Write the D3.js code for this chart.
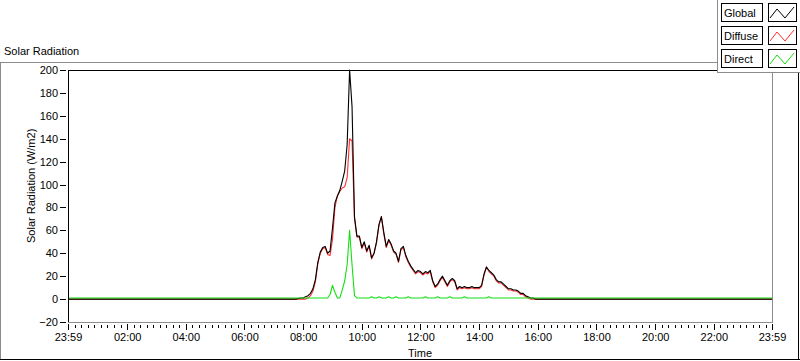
<!DOCTYPE html>
<html>
<head>
<meta charset="utf-8">
<script src="https://cdn.jsdelivr.net/npm/d3@7"></script>
<style>
    body { margin: 0; background: #fff; }
    svg { display: block; font-family: "Liberation Sans", Arial, sans-serif; font-size: 11px; }
    .frameGray { stroke: #8c8c8c; shape-rendering: crispEdges; }
    .frameDark { stroke: #000; shape-rendering: crispEdges; }
</style>
</head>
<body>
<div id="chart"></div>
<script>
// Data (W/m2), shared time grid
var times = ["23:59",
    "07:30", "07:35", "07:40", "07:45", "07:50", "07:55",
    "08:00", "08:05", "08:10", "08:15", "08:20", "08:25", "08:30", "08:35", "08:40", "08:45", "08:50", "08:55",
    "09:00", "09:05", "09:10", "09:15", "09:20", "09:25", "09:30", "09:35", "09:40", "09:45", "09:50", "09:55",
    "10:00", "10:05", "10:10", "10:15", "10:20", "10:25", "10:30", "10:35", "10:40", "10:45", "10:50", "10:55",
    "11:00", "11:05", "11:10", "11:15", "11:20", "11:25", "11:30", "11:35", "11:40", "11:45", "11:50", "11:55",
    "12:00", "12:05", "12:10", "12:15", "12:20", "12:25", "12:30", "12:35", "12:40", "12:45", "12:50", "12:55",
    "13:00", "13:05", "13:10", "13:15", "13:20", "13:25", "13:30", "13:35", "13:40", "13:45", "13:50", "13:55",
    "14:00", "14:05", "14:10", "14:15", "14:20", "14:25", "14:30", "14:35", "14:40", "14:45", "14:50", "14:55",
    "15:00", "15:05", "15:10", "15:15", "15:20", "15:25", "15:30", "15:35", "15:40", "15:45", "15:50", "15:55",
    "16:00", "16:05",
    "23:59"];

var globalVals = [0,
    0, 0, 0, 0, 0.5, 1,
    1, 2, 3, 5, 9, 17, 32, 41, 45, 46, 40, 42,
    62, 84, 90, 95, 103, 112, 135, 200, 168, 72, 55, 55,
    45, 50, 42, 47, 36, 40, 50, 65, 72, 58, 46, 52,
    48, 42, 40, 33, 44, 46, 38, 33, 29, 26, 23, 25,
    24, 22, 24, 23, 25, 16, 11, 13, 17, 20, 16, 12,
    16, 18, 16, 9, 11, 10, 11, 10, 10, 11, 10, 10,
    10, 12, 22, 28, 25, 23, 21, 17, 15, 15, 13, 11,
    9, 9, 8, 8, 7, 5, 5, 3, 2, 1, 1, 0,
    0, 0,
    0];

var diffuseVals = [0,
    0, 0, 0, 0, 0, 0,
    0, 0, 1, 3, 7, 15, 31, 40, 44, 45, 39, 38,
    52, 80, 90, 94, 97, 98, 106, 140, 138, 70, 54, 54,
    44, 49, 41, 46, 35, 40, 49, 64, 72, 57, 45, 51,
    47, 41, 39, 32, 43, 45, 37, 32, 28, 25, 22, 24,
    23, 21, 23, 22, 24, 15, 10, 12, 16, 19, 15, 11,
    15, 17, 15, 8, 10, 9, 10, 9, 9, 10, 9, 9,
    9, 11, 21, 28, 24, 22, 20, 16, 14, 14, 12, 10,
    8, 8, 7, 7, 6, 4, 4, 2, 1, 0, 0, 0,
    0, 0,
    0];

var directVals = [1,
    1, 1, 1, 1, 1, 1,
    1, 1, 1, 1, 1, 1, 1, 1, 1, 1, 1, 4,
    12, 6, 1, 1, 8, 16, 30, 60, 30, 3, 1, 1,
    1, 1, 1, 1, 2, 1, 1, 2, 1, 1, 1, 2,
    1, 1, 2, 1, 1, 1, 1, 2, 1, 1, 1, 1,
    1, 1, 2, 1, 1, 1, 1, 2, 1, 1, 1, 1,
    2, 1, 1, 1, 1, 1, 2, 1, 1, 1, 1, 1,
    1, 1, 1, 1, 2, 1, 1, 1, 1, 1, 1, 1,
    1, 1, 1, 1, 1, 1, 1, 1, 1, 1, 1, 1,
    1, 1,
    1];

var yTicks = [-20, 0, 20, 40, 60, 80, 100, 120, 140, 160, 180, 200];
var xTickLabels = ["23:59", "02:00", "04:00", "06:00", "08:00", "10:00", "12:00",
    "14:00", "16:00", "18:00", "20:00", "22:00", "23:59"];
var seriesNames = ["Global", "Diffuse", "Direct"];
var seriesColors = ["#000000", "#ff3030", "#12e012"];

var svgWidth = 800;
var svgHeight = 361;
var plot = { left: 68, right: 772, top: 70, bottom: 322 };

var parseTime = d3.timeParse("%Y-%m-%d %H:%M");
// first entry is the evening before, everything else falls on the next day
function toDate(t, i) {
    return parseTime((i === 0 ? "2020-01-01 " : "2020-01-02 ") + t);
}

var svg = d3.select("#chart")
    .append("svg")
    .attr("width", svgWidth)
    .attr("height", svgHeight);

var xScale = d3.scaleTime()
    .domain([toDate("23:59", 0), toDate("23:59", 1)])
    .range([plot.left, plot.right]);

var yScale = d3.scaleLinear()
    .domain([-20, 200])
    .range([plot.bottom, plot.top]);

// panel border (sunken look)
svg.append("line").attr("class", "frameGray")
    .attr("x1", 0).attr("x2", 717).attr("y1", 62.5).attr("y2", 62.5);
svg.append("line").attr("class", "frameGray")
    .attr("x1", 0.5).attr("x2", 0.5).attr("y1", 62).attr("y2", 360);
svg.append("line").attr("class", "frameDark")
    .attr("x1", 0).attr("x2", 800).attr("y1", 359.5).attr("y2", 359.5);
svg.append("line").attr("class", "frameDark")
    .attr("x1", 798.5).attr("x2", 798.5).attr("y1", 73).attr("y2", 360);

// title
svg.append("text")
    .attr("x", 4)
    .attr("y", 55)
    .attr("fill", "#000")
    .text("Solar Radiation");

// axes
var majorDates = xTickLabels.map(function (t, i) { return toDate(t, i); });
var minorDates = [];
for (var i = 0; i < majorDates.length - 1; i++) {
    var a = +majorDates[i], b = +majorDates[i + 1];
    for (var k = 1; k < 9; k++) minorDates.push(new Date(a + (b - a) * k / 9));
}

var bottomAxis = d3.axisBottom(xScale)
    .tickValues(majorDates)
    .tickFormat(function (d, i) { return xTickLabels[i]; })
    .tickSize(6)
    .tickPadding(3);
var minorAxis = d3.axisBottom(xScale)
    .tickValues(minorDates)
    .tickFormat("")
    .tickSize(3);
var leftAxis = d3.axisLeft(yScale)
    .tickValues(yTicks)
    .tickSize(6)
    .tickPadding(2);

var xAxisG = svg.append("g")
    .attr("transform", "translate(0, 324)")
    .call(bottomAxis);
var minorG = svg.append("g")
    .attr("transform", "translate(0, 325)")
    .call(minorAxis);
var yAxisG = svg.append("g")
    .attr("transform", "translate(66, 0)")
    .call(leftAxis);

[xAxisG, minorG, yAxisG].forEach(function (g) {
    g.select(".domain").remove();
    g.selectAll("line").attr("stroke", "#000").attr("shape-rendering", "crispEdges");
    g.selectAll("text")
        .attr("fill", "#000")
        .style("font-family", "\"Liberation Sans\", Arial, sans-serif")
        .style("font-size", "11px");
});

// axis titles
svg.append("text")
    .attr("transform", "translate(35, 243) rotate(-90)")
    .attr("fill", "#000")
    .text("Solar Radiation (W/m2)");

svg.append("text")
    .attr("x", (plot.left + plot.right) / 2)
    .attr("y", 357)
    .attr("text-anchor", "middle")
    .attr("fill", "#000")
    .text("Time");

// data lines
svg.append("clipPath").attr("id", "plotClip")
    .append("rect")
    .attr("x", plot.left).attr("y", plot.top - 1)
    .attr("width", plot.right - plot.left).attr("height", plot.bottom - plot.top + 1);

var dates = times.map(toDate);
var series = [globalVals, diffuseVals, directVals].map(function (vals) {
    return vals.map(function (v, i) { return { date: dates[i], v: v }; });
});

var lineGen = d3.line()
    .x(function (d) { return xScale(d.date); })
    .y(function (d) { return yScale(d.v); });

var linesG = svg.append("g").attr("clip-path", "url(#plotClip)");
// diffuse under global, direct on top
[1, 0, 2].forEach(function (s) {
    linesG.append("path")
        .datum(series[s])
        .attr("fill", "none")
        .attr("stroke", seriesColors[s])
        .attr("stroke-width", 1.1)
        .attr("stroke-linejoin", "round")
        .attr("d", lineGen);
});

// plot frame
svg.append("line").attr("class", "frameDark")
    .attr("x1", plot.left).attr("x2", 717).attr("y1", plot.top + 0.5).attr("y2", plot.top + 0.5);
svg.append("line").attr("class", "frameDark")
    .attr("x1", plot.left + 0.5).attr("x2", plot.left + 0.5).attr("y1", plot.top).attr("y2", plot.bottom + 1);
svg.append("line").attr("class", "frameGray")
    .attr("x1", plot.right + 0.5).attr("x2", plot.right + 0.5).attr("y1", 73).attr("y2", plot.bottom + 1);
svg.append("line").attr("class", "frameGray")
    .attr("x1", plot.left).attr("x2", plot.right + 1).attr("y1", plot.bottom + 0.5).attr("y2", plot.bottom + 0.5);

// legend panel
var legend = svg.append("g");
legend.append("rect")
    .attr("x", 717).attr("y", -1)
    .attr("width", 90).attr("height", 74)
    .attr("fill", "#fff");
legend.append("line").attr("class", "frameGray")
    .attr("x1", 717.5).attr("x2", 717.5).attr("y1", 0).attr("y2", 73);
legend.append("line").attr("class", "frameGray")
    .attr("x1", 717).attr("x2", 800).attr("y1", 72.5).attr("y2", 72.5);

seriesNames.forEach(function (name, i) {
    var y0 = 3 + i * 23;
    legend.append("rect")
        .attr("x", 721.5).attr("y", y0 + 0.5)
        .attr("width", 41).attr("height", 18)
        .attr("fill", "#fff")
        .attr("stroke", "#000")
        .attr("stroke-width", 1)
        .attr("shape-rendering", "crispEdges");
    legend.append("text")
        .attr("x", 724)
        .attr("y", y0 + 14)
        .attr("fill", "#000")
        .text(name);
    legend.append("rect")
        .attr("x", 768.5).attr("y", y0 + 0.5)
        .attr("width", 28).attr("height", 18)
        .attr("fill", "#fff")
        .attr("stroke", "#000")
        .attr("stroke-width", 1)
        .attr("shape-rendering", "crispEdges");
    legend.append("path")
        .attr("d", "M" + 770 + "," + (y0 + 15) + "L" + 777 + "," + (y0 + 6) +
            "L" + 785 + "," + (y0 + 15) + "L" + 794 + "," + (y0 + 4))
        .attr("fill", "none")
        .attr("stroke", seriesColors[i])
        .attr("stroke-width", 1);
});
</script>
</body>
</html>
